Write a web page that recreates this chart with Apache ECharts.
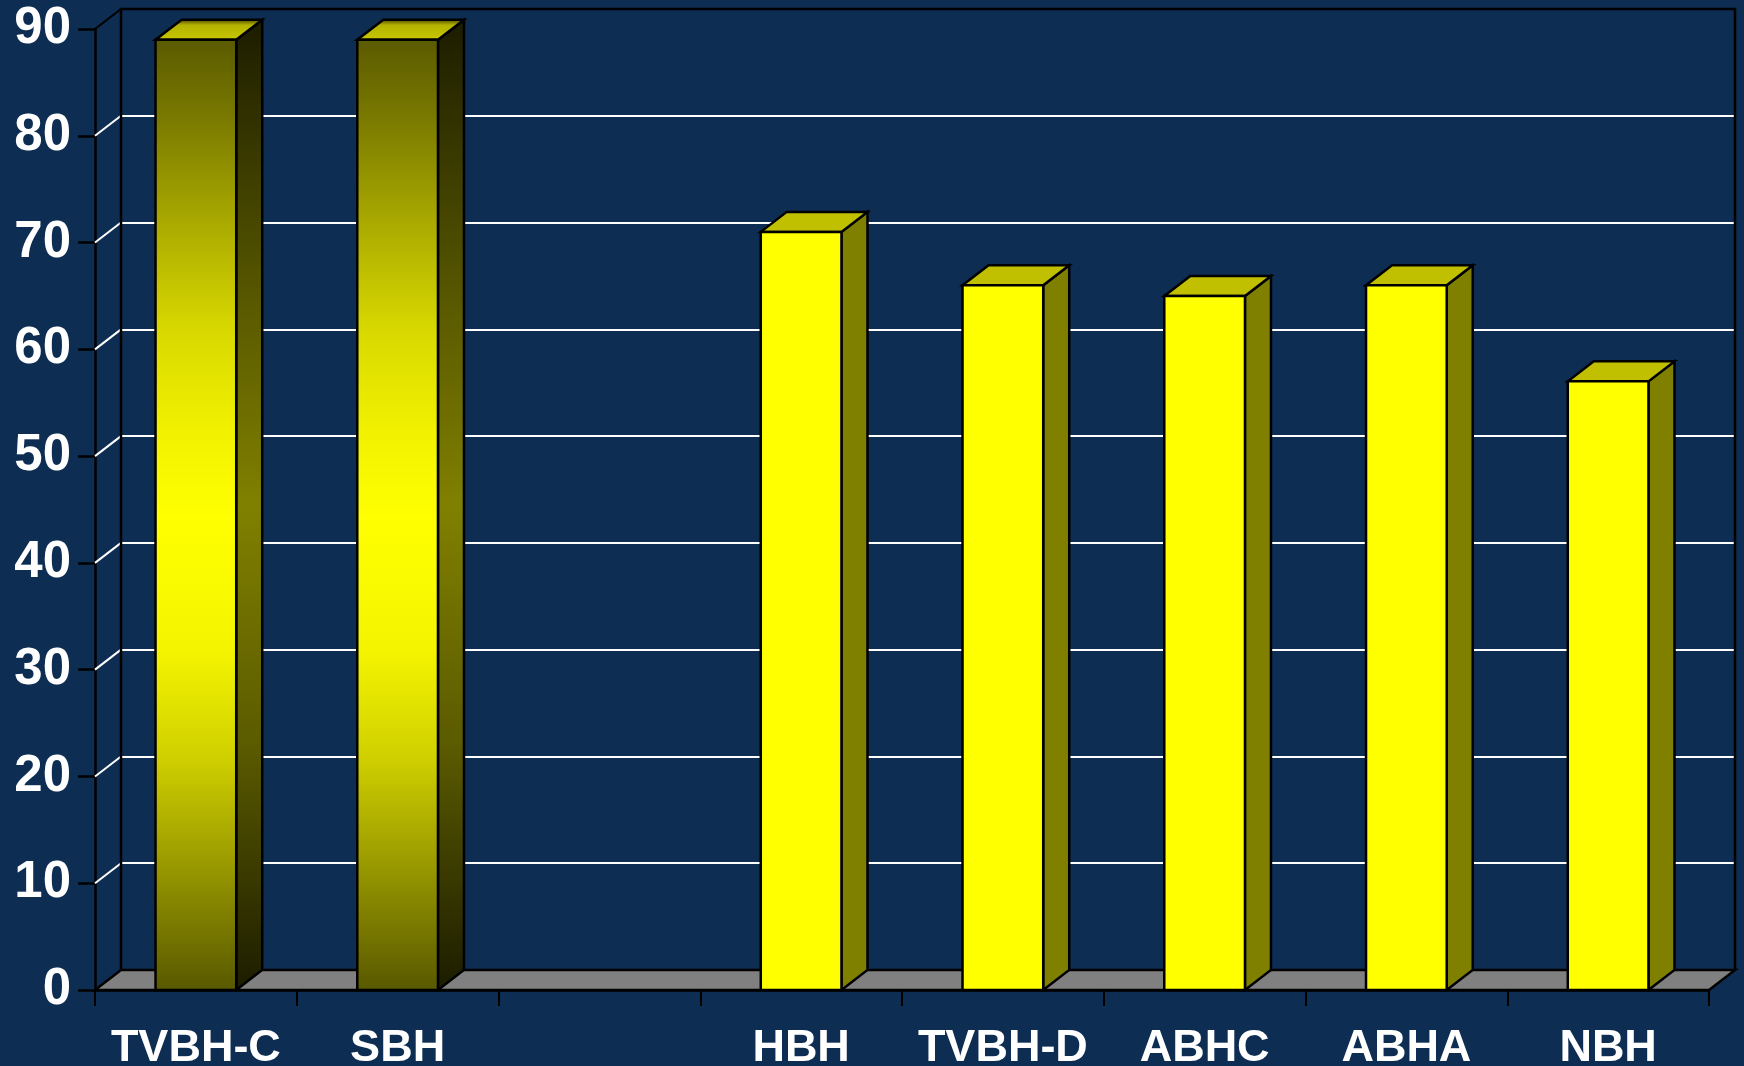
<!DOCTYPE html>
<html>
<head>
<meta charset="utf-8">
<script src="https://cdn.jsdelivr.net/npm/echarts@6/dist/echarts.min.js"></script>
<style>
  html, body { margin: 0; padding: 0; background: #0e2d52; }
  #chart { width: 1744px; height: 1066px; }
</style>
</head>
<body>
<div id="chart"></div>
<script>
// Category order along the x axis (the third slot is left empty)
const categories = ['TVBH-C', 'SBH', '', 'HBH', 'TVBH-D', 'ABHC', 'ABHA', 'NBH'];
// Shaded (gradient) group and plain yellow group
const shadedValues = [89, 89, null, null, null, null, null, null];
const plainValues  = [null, null, null, 71, 66, 65, 66, 57];
// Value-axis ticks
const yTicks = [0, 10, 20, 30, 40, 50, 60, 70, 80, 90];

const DX = 26, DY = -20;          // depth offset of the 3D box
const EDGE = '#000000';
const EDGE_W = 2.5;
const BAR_RATIO = 0.4;

const toPairs = vals => vals.map((v, i) => [i, v]).filter(d => d[1] != null);

function barRenderer(style) {
  return function (params, api) {
    const i = api.value(0), v = api.value(1);
    const top = api.coord([i, v]);
    const base = api.coord([i, 0]);
    const w = api.size([1, 0])[0] * BAR_RATIO;
    const x0 = top[0] - w / 2, x1 = top[0] + w / 2;
    const yT = top[1], yB = base[1];
    const common = { stroke: EDGE, lineWidth: EDGE_W, lineJoin: 'miter' };
    return {
      type: 'group',
      children: [
        { type: 'polygon',
          shape: { points: [[x1, yB], [x1 + DX, yB + DY], [x1 + DX, yT + DY], [x1, yT]] },
          style: Object.assign({ fill: style.side }, common) },
        { type: 'polygon',
          shape: { points: [[x0, yT], [x0 + DX, yT + DY], [x1 + DX, yT + DY], [x1, yT]] },
          style: Object.assign({ fill: style.top }, common) },
        { type: 'rect',
          shape: { x: x0, y: yT, width: w, height: yB - yT },
          style: Object.assign({ fill: style.front }, common) }
      ]
    };
  };
}

const G = echarts.graphic.LinearGradient;
const shadedStyle = {
  front: new G(0, 0, 0, 1, [
    { offset: 0, color: '#5a5a00' },
    { offset: 0.08, color: '#787800' },
    { offset: 0.19, color: '#a8a800' },
    { offset: 0.305, color: '#d8d800' },
    { offset: 0.417, color: '#f2f200' },
    { offset: 0.504, color: '#ffff00' },
    { offset: 0.642, color: '#f4f400' },
    { offset: 0.754, color: '#d0d000' },
    { offset: 0.853, color: '#a0a000' },
    { offset: 1, color: '#585800' }
  ]),
  side: new G(0, 0, 0, 1, [
    { offset: 0, color: '#1c1c00' },
    { offset: 0.3, color: '#5a5a00' },
    { offset: 0.5, color: '#808000' },
    { offset: 0.75, color: '#5a5a00' },
    { offset: 1, color: '#1c1c00' }
  ]),
  top: new G(0, 1, 0, 0, [
    { offset: 0, color: '#c8c800' },
    { offset: 0.7, color: '#b4b400' },
    { offset: 1, color: '#3a3a00' }
  ])
};
const plainStyle = { front: '#ffff00', side: '#808000', top: '#c0c000' };

// Floor, side wall and back-wall frame of the 3D box
function frameRenderer(params, api) {
  const cs = params.coordSys;
  const L = cs.x, R = cs.x + cs.width, T = cs.y, B = cs.y + cs.height;
  const children = [];
  // left side wall grid lines
  yTicks.forEach(t => {
    if (t === 0 || t === yTicks[yTicks.length - 1]) return;
    const y = api.coord([0, t])[1];
    children.push({ type: 'line', shape: { x1: L, y1: y, x2: L + DX, y2: y + DY },
      style: { stroke: '#ffffff', lineWidth: 2 } });
  });
  // floor
  children.push({ type: 'polygon',
    shape: { points: [[L, B], [L + DX, B + DY], [R + DX, B + DY], [R, B]] },
    style: { fill: '#808080', stroke: EDGE, lineWidth: EDGE_W } });
  // wall edges
  children.push({ type: 'polyline',
    shape: { points: [[L + DX, B + DY], [L + DX, T + DY], [R + DX, T + DY], [R + DX, B + DY]] },
    style: { stroke: EDGE, lineWidth: EDGE_W, fill: null } });
  children.push({ type: 'line', shape: { x1: L, y1: T, x2: L + DX, y2: T + DY },
    style: { stroke: EDGE, lineWidth: 2 } });
  return { type: 'group', children };
}

const chart = echarts.init(document.getElementById('chart'), null, { renderer: 'canvas' });
const labelFont = { color: '#ffffff', fontFamily: '"Liberation Sans", Arial, sans-serif', fontWeight: 'bold' };

chart.setOption({
  backgroundColor: '#0e2d52',
  animation: false,
  grid: [
    { left: 95, right: 35, top: 29, bottom: 76, outerBoundsMode: 'none', containLabel: false },
    { left: 95 + DX, right: 35 - DX, top: 29 + DY, bottom: 76 - DY, outerBoundsMode: 'none', containLabel: false }
  ],
  xAxis: [
    { type: 'category', gridIndex: 0, data: categories,
      axisLine: { show: true, lineStyle: { color: EDGE, width: EDGE_W } },
      axisTick: { show: true, length: 16, lineStyle: { color: EDGE, width: 2 } },
      axisLabel: Object.assign({ fontSize: 45, margin: 36, interval: 0 }, labelFont),
      splitLine: { show: false } },
    { type: 'category', gridIndex: 1, data: categories, show: false }
  ],
  yAxis: [
    { type: 'value', gridIndex: 0, min: 0, max: 90, interval: 10,
      axisLine: { show: true, lineStyle: { color: EDGE, width: EDGE_W } },
      axisTick: { show: true, length: 17, lineStyle: { color: EDGE, width: 2.5 } },
      axisLabel: Object.assign({ fontSize: 51, margin: 24 }, labelFont),
      splitLine: { show: false } },
    { type: 'value', gridIndex: 1, min: 0, max: 90, interval: 10,
      axisLine: { show: false }, axisTick: { show: false }, axisLabel: { show: false },
      splitLine: { show: true, lineStyle: { color: '#ffffff', width: 2 } } }
  ],
  series: [
    { type: 'custom', name: 'frame', xAxisIndex: 0, yAxisIndex: 0, z: 1,
      renderItem: frameRenderer, data: [[0, 0]], silent: true },
    { type: 'custom', name: 'shaded', xAxisIndex: 0, yAxisIndex: 0, z: 3,
      renderItem: barRenderer(shadedStyle), data: toPairs(shadedValues) },
    { type: 'custom', name: 'plain', xAxisIndex: 0, yAxisIndex: 0, z: 3,
      renderItem: barRenderer(plainStyle), data: toPairs(plainValues) }
  ]
});
</script>
</body>
</html>
